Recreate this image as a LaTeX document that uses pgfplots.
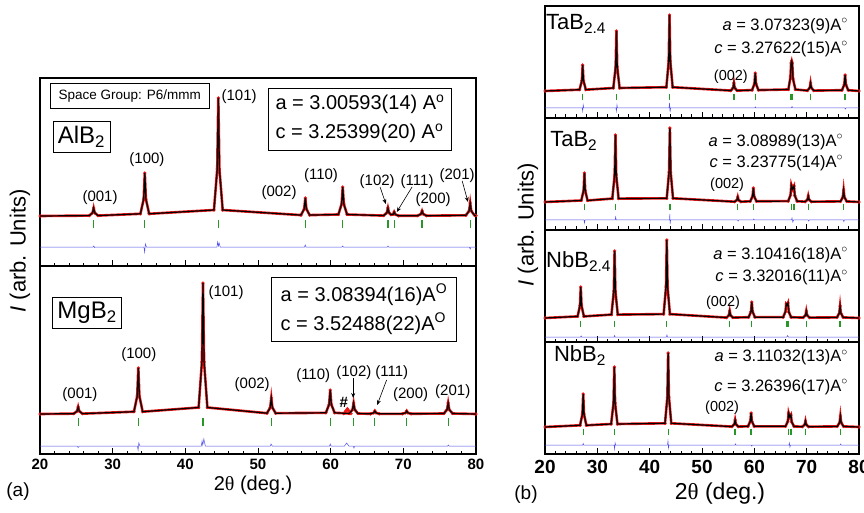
\documentclass[border=0pt]{standalone}
\usepackage{fontspec}
\setmainfont{Liberation Sans}
\newfontfamily\serifgreek{Liberation Serif}
\usepackage{pgfplots}
\usepackage{pgfplotstable}
\pgfplotsset{compat=1.18}
\usetikzlibrary{arrows.meta}
\definecolor{tickgreen}{RGB}{40,150,40}
\definecolor{diffblue}{RGB}{80,80,235}
\definecolor{obsred}{RGB}{235,25,25}

\pgfplotsset{
 xrd/.style={scale only axis, anchor=south west, xmin=20, xmax=80, xtick={20,30,40,50,60,70,80},
   minor x tick num=4, ytick=\empty, xtick pos=left, tick align=inside,
   axis line style={line width=1.1pt}, major tick length=6pt, minor tick length=3.5pt,
   every tick/.append style={line width=0.9pt, black},
   /pgf/number format/assume math mode=true, clip mode=individual},
 obs/.style={obsred, line width=2.6pt, mark=*, mark size=1.5pt, mark options={line width=0.3pt, fill=obsred, draw=obsred}},
 calc/.style={black, line width=1.2pt, no marks},
 bragg/.style={only marks, mark=|, mark size=3.8pt, color=tickgreen, mark options={line width=1.3pt}},
 diff/.style={diffblue, line width=0.5pt, no marks},
}

\pgfplotstableread{
x y
20 0
26.78 0.4
27.23 3.2
27.38 8
27.53 3.2
27.98 0.4
33.82 2.2
34.27 17
34.42 43
34.57 17
35.02 2.2
43.94 6
44.39 47
44.54 118
44.69 47
45.14 6
55.91 0.9
56.36 7
56.51 18
56.66 7
57.11 0.9
61.06 1.5
61.51 12
61.66 29
61.81 12
62.26 1.5
67.28 0.4
67.73 3.2
67.88 8
68.03 3.2
68.3 1.3
68.59 1.6
68.74 4
68.89 1.6
69.34 0.2
71.98 0.3
72.43 2
72.58 5
72.73 2
73.18 0.3
78.6 0.7
79.05 5
79.2 13
79.35 5
79.8 0.7
80 0.3
}\AlBtwo

\pgfplotstableread{
x y
20 0
24.65 0.35
25.1 2.8
25.25 7
25.4 2.8
25.85 0.35
32.93 2.3
33.38 18
33.53 46
33.68 18
34.13 2.3
41.83 6.5
42.28 52
42.43 131
42.58 52
43.03 6.5
51.23 0.8
51.68 6.4
51.83 16
51.98 6.4
52.43 0.8
59.34 1.2
59.79 9.6
59.94 24
60.09 9.6
60.54 1.2
62.56 0.5
63.01 4.4
63.16 11
63.31 4.4
63.76 0.5
65.48 0.2
65.93 1.2
66.08 3
66.23 1.2
66.68 0.2
69.86 0.2
70.31 1.2
70.46 3
70.61 1.2
71.06 0.2
75.57 0.5
76.02 4.4
76.17 11
76.32 4.4
76.77 0.5
80 0
}\MgBtwo

\pgfplotstableread{
x y
20 0
26.6 1.3
27.05 10.4
27.2 26
27.35 10.4
27.8 1.3
33.05 3
33.5 24
33.65 60
33.8 24
34.25 3
43.19 3.8
43.64 30
43.79 76
43.94 30
44.39 3.8
55.5 0.4
55.95 3.2
56.1 8
56.25 3.2
56.7 0.4
59.57 0.9
60.02 7.2
60.17 18
60.32 7.2
60.77 0.9
66.5 1.5
66.9 14
67.03 28
67.14 30
67.24 28
67.39 12
67.85 1.5
70.14 0.4
70.59 3.2
70.74 8
70.89 3.2
71.34 0.4
76.74 0.8
77.19 6.4
77.34 16
77.49 6.4
77.94 0.8
80 0
}\TaBtwofour

\pgfplotstableread{
x y
20 0
26.93 1.5
27.38 11.6
27.53 29
27.68 11.6
28.13 1.5
32.86 3.4
33.31 27
33.46 67
33.61 27
34.06 3.4
43.26 3.7
43.71 30
43.86 74
44.01 30
44.46 3.7
56.23 0.3
56.68 2
56.83 5
56.98 2
57.43 0.3
59.21 0.7
59.66 5.6
59.81 14
59.96 5.6
60.41 0.7
66.47 0.9
66.92 7
67.07 17
67.3 13
67.58 16
67.73 6.4
68.18 0.8
69.7 0.3
70.15 2.4
70.3 6
70.45 2.4
70.9 0.3
76.46 0.6
76.91 4.8
77.06 12
77.21 4.8
77.66 0.6
80 0
}\TaBtwo

\pgfplotstableread{
x y
20 0
26.23 1.6
26.68 12.4
26.83 31
26.98 12.4
27.43 1.6
32.7 3.4
33.15 27
33.3 67
33.45 27
33.9 3.4
42.67 3.9
43.12 31
43.27 78
43.42 31
43.87 3.9
54.69 0.4
55.14 2.8
55.29 7
55.44 2.8
55.89 0.4
58.91 0.8
59.36 6.4
59.51 16
59.66 6.4
60.11 0.8
65.5 0.8
65.95 6.4
66.09 14
66.26 13
66.43 15
66.58 6
67.03 0.8
69.33 0.4
69.78 2.8
69.93 7
70.08 2.8
70.53 0.4
75.78 0.6
76.23 4.8
76.38 12
76.53 4.8
76.98 0.6
80 0
}\NbBtwofour

\pgfplotstableread{
x y
20 0
26.7 1.7
27.15 13
27.3 33
27.45 13
27.9 1.7
32.64 3
33.09 24
33.24 60
33.39 24
33.84 3
42.93 3.7
43.38 30
43.53 74
43.68 30
44.13 3.7
55.73 0.4
56.18 2.8
56.33 7
56.48 2.8
56.93 0.4
58.78 0.7
59.23 5.6
59.38 14
59.53 5.6
59.98 0.7
65.95 0.7
66.4 5.6
66.55 14
66.77 10
66.99 12
67.14 5
67.59 0.6
69.17 0.3
69.62 2.4
69.77 6
69.92 2.4
70.37 0.3
75.84 0.6
76.29 4.4
76.44 11
76.59 4.4
77.04 0.6
80 0
}\NbBtwo

\begin{document}
\begin{tikzpicture}
\path[use as bounding box] (0,0) rectangle (864pt,512pt);

% ---------------- panel (a), AlB2 ----------------
\begin{axis}[xrd, at={(40pt,246pt)}, width=436pt, height=188pt, ymin=-50, ymax=138, xticklabels={}]
\addplot[obs] table {\AlBtwo};
\addplot[calc] table {\AlBtwo};
\addplot[bragg] coordinates {(27.38,-8)(34.42,-8)(44.54,-8)(56.51,-8)(61.66,-8)(67.88,-8)(68.74,-8)(72.58,-8)(79.2,-8)};
\addplot[diff] coordinates {(20,-31)(27.3,-31)(27.4,-30)(27.5,-31.5)(27.6,-31)(34.3,-31)(34.4,-36)(34.5,-28)(34.65,-31)(44.35,-31)(44.45,-26)(44.55,-30)(44.65,-27)(44.8,-31)(56.4,-31)(56.5,-29)(56.6,-31)(61.55,-31)(61.65,-30)(61.75,-31)(67.8,-31)(67.9,-30)(68,-31)(79.1,-31)(79.2,-33)(79.3,-31)(80,-31)};
\node[draw, line width=0.6pt, inner xsep=8pt, inner ysep=6pt, font=\fontsize{13.5}{13.5}\selectfont] at (rel axis cs:0.206,0.904) {Space Group: P6/mmm};
\node[draw, line width=0.6pt, inner sep=5pt, font=\fontsize{24}{24}\selectfont] at (rel axis cs:0.095,0.689) {AlB\textsubscript{2}};
\node[draw, line width=0.6pt, align=left, inner xsep=7pt, inner ysep=7pt, font=\fontsize{20}{29}\selectfont] at (rel axis cs:0.734,0.782) {a = 3.00593(14) A\textsuperscript{o}\\c = 3.25399(20) A\textsuperscript{o}};
\begin{scope}[font=\fontsize{15}{15}\selectfont]
\node at (axis cs:28.26,18) {(001)};
\node at (axis cs:34.72,56) {(100)};
\node at (axis cs:47.4,119) {(101)};
\node at (axis cs:52.9,23) {(002)};
\node at (axis cs:58.67,40) {(110)};
\node at (axis cs:66.4,34) {(102)};
\node at (axis cs:71.9,34) {(111)};
\node at (axis cs:74.1,16) {(200)};
\node at (axis cs:77.4,40) {(201)};
\end{scope}
\draw[-{Stealth[length=5pt,width=4pt]}, line width=0.6pt] (axis cs:66.8,29) -- (axis cs:67.6,12);
\draw[-{Stealth[length=5pt,width=4pt]}, line width=0.6pt] (axis cs:71.2,29) -- (axis cs:69.1,4);
\draw[-{Stealth[length=5pt,width=4pt]}, line width=0.6pt] (axis cs:78.1,35) -- (axis cs:78.9,14);
\end{axis}

% ---------------- panel (a), MgB2 ----------------
\begin{axis}[xrd, at={(40pt,58pt)}, width=436pt, height=188pt, ymin=-40, ymax=148,
  xticklabel style={font=\fontsize{15}{15}\selectfont\bfseries, yshift=-1.5pt}]
\addplot[obs] table {\MgBtwo};
\addplot[obs] coordinates {(61.8,0.3)(62.1,3)(62.3,5)(62.5,3)(62.8,0.3)};
\addplot[calc] table {\MgBtwo};
\addplot[bragg] coordinates {(25.25,-8)(33.53,-8)(42.43,-8)(51.83,-8)(59.94,-8)(63.16,-8)(66.08,-8)(70.46,-8)(76.17,-8)};
\addplot[diff] coordinates {(20,-32)(25.1,-32)(25.25,-33.5)(25.4,-32)(33.4,-32)(33.5,-36)(33.6,-29)(33.75,-32)(42.2,-32)(42.3,-27)(42.4,-31)(42.55,-25)(42.75,-32)(51.7,-32)(51.8,-30)(51.95,-32)(59.85,-32)(59.95,-30)(60.05,-32)(61.9,-32)(62.2,-29)(62.5,-32)(63.1,-32)(63.2,-34)(63.3,-32)(76.1,-32)(76.2,-31)(76.3,-32)(80,-32)};
\node[draw, line width=0.6pt, inner sep=5pt, font=\fontsize{24}{24}\selectfont] at (rel axis cs:0.108,0.75) {MgB\textsubscript{2}};
\node[draw, line width=0.6pt, align=left, inner xsep=9pt, inner ysep=7pt, font=\fontsize{20}{29}\selectfont] at (rel axis cs:0.743,0.769) {a = 3.08394(16)A\textsuperscript{O}\\c = 3.52488(22)A\textsuperscript{O}};
\begin{scope}[font=\fontsize{15}{15}\selectfont]
\node at (axis cs:25.5,19) {(001)};
\node at (axis cs:33.6,59) {(100)};
\node at (axis cs:45.6,121) {(101)};
\node at (axis cs:49.2,29) {(002)};
\node at (axis cs:57.6,38) {(110)};
\node[font=\fontsize{15}{15}\selectfont\bfseries] at (axis cs:61.8,12) {\#};
\node at (axis cs:63.2,41) {(102)};
\node at (axis cs:68.4,41) {(111)};
\node at (axis cs:71.0,19) {(200)};
\node at (axis cs:76.8,22) {(201)};
\end{scope}
\draw[-{Stealth[length=5pt,width=4pt]}, line width=0.6pt] (axis cs:63.1,36) -- (axis cs:63.1,16);
\draw[-{Stealth[length=5pt,width=4pt]}, line width=0.6pt] (axis cs:67.7,34) -- (axis cs:66.4,9);
\end{axis}

\node[rotate=90, font=\fontsize{22}{22}\selectfont] at (20pt,261pt) {\textit{I} (arb. Units)};
\node[anchor=base, font=\fontsize{20}{20}\selectfont] at (253pt,22pt) {2{\serifgreek θ} (deg.)};
\node[anchor=base, font=\fontsize{19}{19}\selectfont] at (18pt,16pt) {(a)};

% ---------------- panel (b) ----------------
\begin{axis}[xrd, at={(545pt,394pt)}, width=314pt, height=112pt, ymin=-27, ymax=85, xticklabels={}]
\addplot[obs] table {\TaBtwofour};
\addplot[calc] table {\TaBtwofour};
\addplot[bragg, mark size=3.4pt] coordinates {(27.2,-6)(33.65,-6)(43.79,-6)(56.1,-6)(60.17,-6)(67.03,-6)(67.24,-6)(70.74,-6)(77.34,-6)};
\addplot[diff] coordinates {(20,-17)(27.1,-17)(27.2,-20)(27.3,-14)(27.4,-17)(33.55,-17)(33.65,-20)(33.75,-14)(33.85,-17)(43.7,-17)(43.8,-12)(43.9,-21)(44.0,-17)(60.1,-17)(60.2,-16)(60.3,-17)(67.1,-17)(67.2,-15.5)(67.35,-17)(77.3,-17)(77.4,-18)(77.5,-17)(80,-17)};
\node[anchor=base west, inner sep=1pt, font=\fontsize{22}{22}\selectfont] at (rel axis cs:0.0,0.787) {TaB\textsubscript{2.4}};
\node[anchor=east, inner sep=0pt, font=\fontsize{16.5}{16.5}\selectfont] at (rel axis cs:0.965,0.823) {\textit{a} = 3.07323(9)A$^{\circ}$};
\node[anchor=east, inner sep=0pt, font=\fontsize{16.5}{16.5}\selectfont] at (rel axis cs:0.965,0.617) {\textit{c} = 3.27622(15)A$^{\circ}$};
\node[font=\fontsize{14.5}{14.5}\selectfont] at (rel axis cs:0.592,0.367) {(002)};
\end{axis}

\begin{axis}[xrd, at={(545pt,282pt)}, width=314pt, height=112pt, ymin=-28, ymax=84, xticklabels={}]
\addplot[obs] table {\TaBtwo};
\addplot[calc] table {\TaBtwo};
\addplot[bragg, mark size=3.4pt] coordinates {(27.53,-5)(33.46,-5)(43.86,-5)(56.83,-5)(59.81,-5)(67.07,-5)(67.58,-5)(70.3,-5)(77.06,-5)};
\addplot[diff] coordinates {(20,-18)(27.45,-18)(27.55,-21)(27.65,-18)(33.4,-18)(33.5,-15)(33.6,-18)(43.8,-18)(43.85,-12)(43.9,-22)(44.0,-18)(56.8,-18)(56.9,-19)(57,-18)(59.8,-18)(59.9,-17)(60,-18)(67.1,-18)(67.2,-16)(67.35,-20)(67.5,-18)(70.3,-18)(70.4,-19)(70.5,-18)(77.0,-18)(77.1,-19.5)(77.2,-18)(80,-18)};
\node[anchor=base west, inner sep=1pt, font=\fontsize{22}{22}\selectfont] at (rel axis cs:0.013,0.743) {TaB\textsubscript{2}};
\node[anchor=east, inner sep=0pt, font=\fontsize{16.5}{16.5}\selectfont] at (rel axis cs:0.95,0.787) {\textit{a} = 3.08989(13)A$^{\circ}$};
\node[anchor=east, inner sep=0pt, font=\fontsize{16.5}{16.5}\selectfont] at (rel axis cs:0.95,0.60) {\textit{c} = 3.23775(14)A$^{\circ}$};
\node[font=\fontsize{14.5}{14.5}\selectfont] at (rel axis cs:0.58,0.40) {(002)};
\end{axis}

\begin{axis}[xrd, at={(545pt,170pt)}, width=314pt, height=112pt, ymin=-24, ymax=88, xticklabels={}]
\addplot[obs] table {\NbBtwofour};
\addplot[calc] table {\NbBtwofour};
\addplot[bragg, mark size=3.4pt] coordinates {(26.83,-6)(33.3,-6)(43.27,-6)(55.29,-6)(59.51,-6)(66.09,-6)(66.43,-6)(69.93,-6)(76.38,-6)};
\addplot[diff] coordinates {(20,-19)(26.8,-19)(26.9,-18)(27.0,-19)(33.2,-19)(33.3,-17.5)(33.4,-19)(43.2,-19)(43.3,-17)(43.4,-19)(66.2,-19)(66.35,-17.5)(66.5,-19)(80,-19)};
\node[anchor=base west, inner sep=1pt, font=\fontsize{22}{22}\selectfont] at (rel axis cs:0.0,0.662) {NbB\textsubscript{2.4}};
\node[anchor=east, inner sep=0pt, font=\fontsize{16.5}{16.5}\selectfont] at (rel axis cs:0.965,0.778) {\textit{a} = 3.10416(18)A$^{\circ}$};
\node[anchor=east, inner sep=0pt, font=\fontsize{16.5}{16.5}\selectfont] at (rel axis cs:0.965,0.58) {\textit{c} = 3.32016(11)A$^{\circ}$};
\node[font=\fontsize{14.5}{14.5}\selectfont] at (rel axis cs:0.567,0.35) {(002)};
\end{axis}

\begin{axis}[xrd, at={(545pt,58pt)}, width=314pt, height=112pt, ymin=-27, ymax=85,
  xticklabel style={font=\fontsize{19}{19}\selectfont\bfseries, yshift=-3pt}]
\addplot[obs] table {\NbBtwo};
\addplot[calc] table {\NbBtwo};
\addplot[bragg, mark size=3.4pt] coordinates {(27.3,-5)(33.24,-5)(43.53,-5)(56.33,-5)(59.38,-5)(66.55,-5)(66.99,-5)(69.77,-5)(76.44,-5)};
\addplot[diff] coordinates {(20,-18)(27.2,-18)(27.3,-16.5)(27.4,-18)(33.2,-18)(33.3,-22)(33.4,-16)(33.5,-18)(43.4,-18)(43.5,-14)(43.6,-21)(43.7,-18)(56.3,-18)(56.4,-17)(56.5,-18)(59.4,-18)(59.5,-19)(59.6,-18)(66.6,-18)(66.7,-16)(66.8,-20)(66.9,-18)(76.4,-18)(76.5,-17)(76.6,-18)(80,-18)};
\node[anchor=base west, inner sep=1pt, font=\fontsize{22}{22}\selectfont] at (rel axis cs:0.025,0.823) {NbB\textsubscript{2}};
\node[anchor=east, inner sep=0pt, font=\fontsize{16.5}{16.5}\selectfont] at (rel axis cs:0.965,0.86) {\textit{a} = 3.11032(13)A$^{\circ}$};
\node[anchor=east, inner sep=0pt, font=\fontsize{16.5}{16.5}\selectfont] at (rel axis cs:0.965,0.60) {\textit{c} = 3.26396(17)A$^{\circ}$};
\node[font=\fontsize{14.5}{14.5}\selectfont] at (rel axis cs:0.564,0.41) {(002)};
\end{axis}

\node[rotate=90, font=\fontsize{22}{22}\selectfont] at (528pt,287pt) {\textit{I} (arb. Units)};
\node[anchor=base, font=\fontsize{23}{23}\selectfont] at (720pt,13pt) {2{\serifgreek θ} (deg.)};
\node[anchor=base, font=\fontsize{19}{19}\selectfont] at (526pt,13pt) {(b)};
\end{tikzpicture}
\end{document}
